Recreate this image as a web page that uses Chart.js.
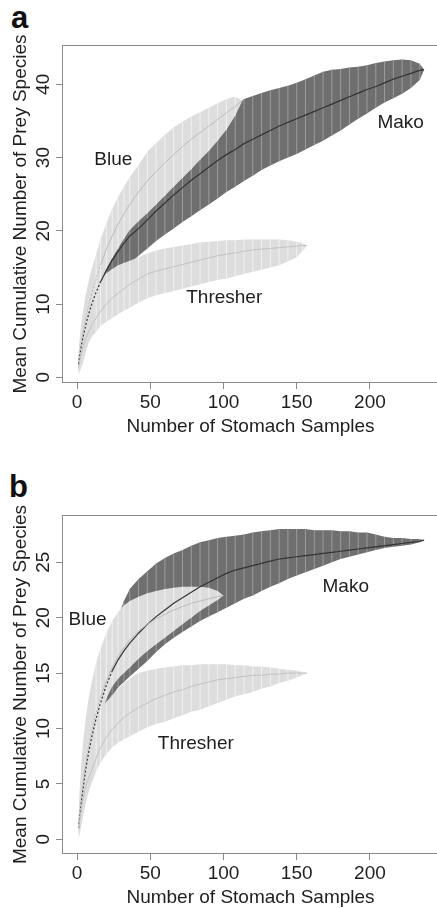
<!DOCTYPE html>
<html><head><meta charset="utf-8">
<script src="https://cdn.jsdelivr.net/npm/chart.js@4.4.1/dist/chart.umd.min.js"></script>
<style>
html,body{margin:0;padding:0;background:#fff;overflow:hidden;width:437px;height:908px;position:relative;}
canvas{position:absolute;left:0;}
.tag{position:absolute;font:bold 31px "Liberation Sans",Arial,sans-serif;line-height:31px;color:#111;}
</style></head><body>
<div class="tag" style="left:11px;top:2px">a</div>
<div class="tag" style="left:9px;top:471px">b</div>
<canvas id="ca" width="446" height="450" style="top:0;width:446px;height:450px"></canvas>
<canvas id="cb" width="446" height="471" style="top:450px;width:446px;height:471px"></canvas>
<script>
// ---------- data ----------
const xTicks = [0, 50, 100, 150, 200];
const yTicksA = [0, 10, 20, 30, 40];
const yTicksB = [0, 5, 10, 15, 20, 25];

const nMako = [1,2,3,4,6,8,10,13,16,20,24,28,32,36,42,48,54,60,66,72,78,84,90,96,102,108,114,120,126,132,138,144,150,156,162,168,174,180,186,192,198,204,210,216,222,228,234,237];
const nBlueA = [1,2,3,4,6,8,10,13,16,20,24,28,32,36,42,48,54,60,66,72,78,84,90,96,102,108,113];
const nBlueB = [1,2,3,4,6,8,10,13,16,20,24,28,32,36,42,48,54,60,66,72,78,84,90,96,100];
const nThr = [1,2,3,4,6,8,10,13,16,20,24,28,32,36,42,48,54,60,66,72,78,84,90,96,102,108,114,120,126,132,138,144,150,154,157];

// panel a
const makoMeanA = [1.8,3.2,4.4,5.4,7.2,8.7,10.0,11.6,13.0,14.6,16.0,17.2,18.3,19.3,20.3,21.5,22.7,23.8,24.9,25.9,26.9,27.8,28.7,29.6,30.4,31.1,31.9,32.5,33.1,33.7,34.3,34.8,35.3,35.8,36.3,36.8,37.3,37.8,38.3,38.8,39.3,39.7,40.2,40.7,41.1,41.5,41.9,42.0];
const makoLowA = [0.8,1.8,2.7,3.5,5.0,6.3,7.5,9.0,10.5,12.0,13.0,14.0,14.8,15.5,16.6,17.6,18.6,19.5,20.3,21.2,22.0,22.8,23.6,24.4,25.3,26.0,26.8,27.5,28.3,28.9,29.5,30.0,30.5,31.1,31.7,32.3,33.0,33.7,34.5,35.3,36.0,36.8,37.5,38.1,38.7,39.5,40.6,42.0];
const makoHighA = [3.0,4.8,6.3,7.5,9.5,11.2,12.6,14.5,16.2,17.9,19.4,20.7,21.9,23.0,24.4,25.7,27.0,28.2,29.4,30.5,31.6,32.6,33.6,34.6,35.6,36.8,38.0,38.4,38.8,39.2,39.5,39.8,40.2,40.7,41.2,41.7,42.0,42.1,42.3,42.4,42.6,42.9,43.1,43.3,43.4,43.3,42.8,42.0];
const blueMeanA = [2.0,3.6,5.0,6.2,8.2,9.9,11.4,13.4,15.3,17.5,19.3,20.9,22.3,23.6,25.3,26.8,28.1,29.3,30.4,31.5,32.5,33.4,34.3,35.2,36.1,37.0,37.8];
const blueLowA = [0.5,1.5,2.5,3.4,5.0,6.5,8.0,10.0,12.3,14.8,16.3,17.6,18.9,20.1,21.3,22.4,23.6,24.8,26.0,27.2,28.4,29.7,30.9,32.3,33.8,35.7,37.8];
const blueHighA = [3.5,5.8,7.5,9.0,11.3,13.2,14.8,16.8,18.8,21.0,23.0,24.6,26.0,27.3,29.0,30.8,32.0,33.1,34.1,34.9,35.6,36.2,36.8,37.4,38.0,38.3,37.8];
const thrMeanA = [1.3,2.4,3.3,4.1,5.3,6.3,7.1,8.1,9.0,10.0,10.8,11.5,12.1,12.7,13.4,14.1,14.5,14.8,15.1,15.4,15.7,16.0,16.3,16.6,16.8,17.0,17.2,17.4,17.5,17.6,17.7,17.8,17.9,18.0,18.0];
const thrLowA = [0.2,0.8,1.4,1.9,3.5,4.8,5.5,6.2,7.0,7.6,8.1,8.6,9.1,9.5,10.2,10.8,11.2,11.5,11.8,12.1,12.4,12.7,13.0,13.3,13.5,13.8,14.1,14.4,14.7,15.0,15.3,15.8,16.4,17.2,18.0];
const thrHighA = [2.5,4.2,5.6,6.8,8.5,9.8,10.9,12.2,13.3,14.2,14.8,15.3,15.6,15.9,16.4,16.9,17.3,17.6,17.8,18.0,18.2,18.4,18.5,18.6,18.7,18.7,18.8,18.8,18.8,18.8,18.8,18.7,18.5,18.3,18.0];

// panel b
const makoMeanB = [1.0,2.2,3.4,4.5,6.4,7.9,9.2,10.9,12.3,13.9,15.2,16.2,17.0,17.7,18.6,19.4,20.1,20.7,21.3,21.8,22.3,22.8,23.2,23.6,24.0,24.3,24.5,24.7,24.9,25.1,25.3,25.4,25.5,25.6,25.7,25.8,25.9,26.0,26.1,26.2,26.3,26.4,26.5,26.6,26.7,26.8,26.9,27.0];
const makoLowB = [0.6,1.6,2.6,3.5,5.0,6.5,7.8,9.6,11.2,12.4,12.9,13.7,14.2,14.7,15.4,16.1,16.9,17.6,18.2,18.7,19.2,19.7,20.1,20.5,20.9,21.3,21.7,22.0,22.4,22.8,23.1,23.5,23.8,24.1,24.4,24.7,25.0,25.3,25.5,25.7,25.9,26.1,26.3,26.4,26.5,26.6,26.8,27.0];
const makoHighB = [1.5,3.2,4.8,6.2,8.4,10.2,11.6,13.4,15.0,16.8,18.5,20.0,21.5,22.6,23.5,24.2,24.9,25.4,25.8,26.1,26.5,26.8,27.0,27.2,27.3,27.4,27.5,27.7,27.8,27.9,28.0,28.0,28.0,28.0,27.9,27.9,27.9,27.8,27.8,27.7,27.7,27.5,27.3,27.2,27.2,27.1,27.1,27.0];
const blueMeanB = [1.5,2.9,4.1,5.2,7.0,8.5,9.8,11.4,12.8,14.3,15.5,16.5,17.3,18.0,18.8,19.4,19.9,20.3,20.7,21.0,21.3,21.5,21.7,21.9,22.0];
const blueLowB = [0.2,0.8,1.5,2.2,3.6,5.0,6.5,8.6,10.5,12.7,13.8,14.5,15.0,15.5,16.3,17.0,17.6,18.2,18.8,19.4,20.0,20.6,21.1,21.6,22.0];
const blueHighB = [2.5,5.0,7.0,8.6,11.0,12.8,14.2,15.9,17.2,18.6,19.7,20.5,21.1,21.5,21.9,22.2,22.4,22.6,22.7,22.8,22.8,22.8,22.7,22.4,22.0];
const thrMeanB = [1.0,1.9,2.8,3.6,4.8,5.6,6.2,7.3,8.3,9.2,9.9,10.5,11.0,11.4,11.9,12.3,12.7,13.0,13.3,13.5,13.8,14.0,14.2,14.4,14.5,14.6,14.7,14.8,14.8,14.9,14.9,15.0,15.0,15.0,15.0];
const thrLowB = [0.0,0.6,1.3,2.0,3.3,4.3,5.1,6.1,6.9,7.7,8.3,8.7,9.0,9.3,9.7,10.1,10.4,10.6,10.9,11.2,11.5,11.7,12.0,12.3,12.6,12.9,13.1,13.3,13.6,13.8,14.1,14.3,14.6,14.8,15.0];
const thrHighB = [2.0,3.5,4.8,5.9,7.6,8.9,9.6,10.7,11.6,12.4,13.0,13.6,14.1,14.5,15.0,15.2,15.4,15.5,15.6,15.7,15.7,15.8,15.8,15.8,15.8,15.7,15.7,15.6,15.6,15.5,15.4,15.3,15.2,15.1,15.0];

// curve labels: [text, samples, species]
const labelsA = [['Blue', 24.8, 29.65], ['Mako', 221, 34.7], ['Thresher', 100.5, 10.8]];
const labelsB = [['Blue', 7.2, 19.8], ['Mako', 183.5, 22.8], ['Thresher', 81.1, 8.65]];

// ---------- rendering ----------
const FONT = '"Liberation Sans", Arial, Helvetica, sans-serif';
Chart.defaults.font.family = FONT;
Chart.defaults.animation = false;

const DARK = '#6f6f6f', DARK_STRIPE = '#9c9c9c';
const LIGHT = '#dddddd', LIGHT_STRIPE = '#f1f1f1';
const AXIS = '#8a8a8a', TEXT = '#1e1e1e';

// band = lower edge line + upper edge line filled to it + thin stripe bars at each sample
function band(n, lo, hi, fill, stripe, order) {
  const edge = arr => n.map((x, i) => ({x, y: arr[i]}));
  return [
    {type: 'line', order: order, data: edge(lo), borderWidth: 0, pointRadius: 0, tension: 0, fill: false},
    {type: 'line', order: order - 1, data: edge(hi), borderWidth: 0, pointRadius: 0, tension: 0,
     fill: '-1', backgroundColor: fill},
    {type: 'bar', order: order - 2, grouped: false, barThickness: 1,
     data: n.map((x, i) => ({x, y: [lo[i], hi[i]]})),
     backgroundColor: c => (c.raw && c.raw.x >= 13 ? stripe : 'rgba(0,0,0,0)'),
     borderWidth: 0, inflateAmount: 0}
  ];
}
function meanLine(n, m, color, width, order, dashUntil) {
  return {
    type: 'line', order, data: n.map((x, i) => ({x, y: m[i]})),
    borderColor: color, borderWidth: width, pointRadius: 0, tension: 0, fill: false,
    segment: {borderDash: c => (c.p1.parsed.x <= dashUntil ? [2, 2] : undefined)}
  };
}

function boxPlugin(labels) {
  return {
    id: 'boxAndLabels',
    afterDatasetsDraw(chart) {
      const {ctx, chartArea: a, scales} = chart;
      ctx.save();
      ctx.fillStyle = TEXT;
      ctx.font = '19px ' + FONT;
      ctx.textAlign = 'center';
      ctx.textBaseline = 'middle';
      labels.forEach(([t, x, y]) => ctx.fillText(t, scales.x.getPixelForValue(x), scales.y.getPixelForValue(y)));
      ctx.strokeStyle = AXIS;
      ctx.lineWidth = 1;
      ctx.strokeRect(a.left - 0.5, a.top - 0.5, a.right - a.left + 1, a.bottom - a.top + 1);
      ctx.restore();
    }
  };
}

function makeChart(id, topPad, yMin, yMax, yTicks, d, labels, dashMako) {
  return new Chart(document.getElementById(id), {
    type: 'line',
    data: {datasets: [
      ...band(nMako, d.makoLow, d.makoHigh, DARK, DARK_STRIPE, 30),
      ...band(d.nBlue, d.blueLow, d.blueHigh, LIGHT, LIGHT_STRIPE, 20),
      ...band(nThr, d.thrLow, d.thrHigh, LIGHT, LIGHT_STRIPE, 10),
      meanLine(nMako, d.makoMean, '#333333', 1.2, 3, dashMako),
      meanLine(d.nBlue, d.blueMean, '#bcbcbc', 1, 2, 16),
      meanLine(nThr, d.thrMean, '#c2c2c2', 1, 1, 0)
    ]},
    options: {
      responsive: false, devicePixelRatio: 1, animation: false,
      layout: {padding: {left: 0, right: 8, top: topPad, bottom: 0}},
      plugins: {legend: {display: false}, tooltip: {enabled: false}, title: {display: false},
                filler: {propagate: false}},
      scales: {
        x: {
          type: 'linear', min: -9.6, max: 246.5, offset: false,
          grid: {display: true, drawOnChartArea: false, drawTicks: true, tickLength: 7, tickColor: AXIS, offset: false},
          border: {display: false},
          ticks: {font: {size: 19}, color: TEXT, padding: 2, maxRotation: 0, autoSkip: false},
          title: {display: true, text: 'Number of Stomach Samples', color: TEXT, font: {size: 19, lineHeight: 1.2}, padding: {top: 0, bottom: 11.9}},
          afterBuildTicks: s => { s.ticks = xTicks.map(v => ({value: v})); },
          afterFit: s => { s.height = 68; }
        },
        y: {
          type: 'linear', min: yMin, max: yMax, stacked: false,
          grid: {display: true, drawOnChartArea: false, drawTicks: true, tickLength: 7, tickColor: AXIS},
          border: {display: false},
          ticks: {font: {size: 19}, color: TEXT, padding: 1.4, minRotation: 90, maxRotation: 90, crossAlign: 'center', autoSkip: false},
          title: {display: true, text: 'Mean Cumulative Number of Prey Species', color: TEXT, font: {size: 19, lineHeight: 1.2}, padding: {top: 8.9, bottom: 0}},
          afterBuildTicks: s => { s.ticks = yTicks.map(v => ({value: v})); },
          afterFit: s => { s.width = 63; }
        }
      }
    },
    plugins: [boxPlugin(labels)]
  });
}

makeChart('ca', 46, -0.64, 45.23, yTicksA, {
  makoMean: makoMeanA, makoLow: makoLowA, makoHigh: makoHighA,
  nBlue: nBlueA, blueMean: blueMeanA, blueLow: blueLowA, blueHigh: blueHighA,
  thrMean: thrMeanA, thrLow: thrLowA, thrHigh: thrHighA
}, labelsA, 16);

makeChart('cb', 66, -1.24, 29.18, yTicksB, {
  makoMean: makoMeanB, makoLow: makoLowB, makoHigh: makoHighB,
  nBlue: nBlueB, blueMean: blueMeanB, blueLow: blueLowB, blueHigh: blueHighB,
  thrMean: thrMeanB, thrLow: thrLowB, thrHigh: thrHighB
}, labelsB, 24);
</script>
</body></html>
